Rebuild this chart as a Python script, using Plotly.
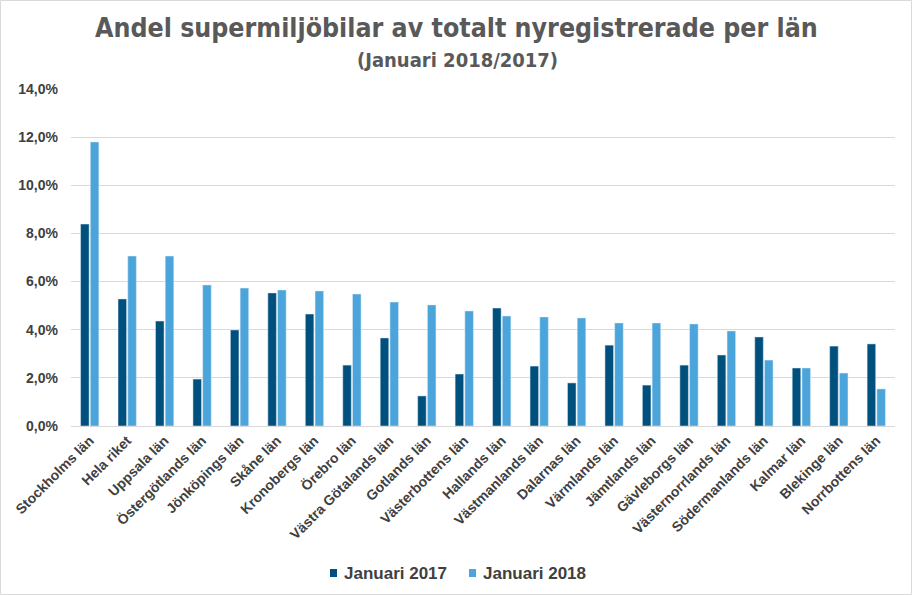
import plotly.graph_objects as go

categories = ["Stockholms län", "Hela riket", "Uppsala län", "Östergötlands län", "Jönköpings län",
              "Skåne län", "Kronobergs län", "Örebro län", "Västra Götalands län", "Gotlands län",
              "Västerbottens län", "Hallands län", "Västmanlands län", "Dalarnas län", "Värmlands län",
              "Jämtlands län", "Gävleborgs län", "Västernorrlands län", "Södermanlands län",
              "Kalmar län", "Blekinge län", "Norrbottens län"]
jan2017 = [8.39, 5.28, 4.36, 1.95, 3.99, 5.53, 4.65, 2.53, 3.66, 1.25, 2.16,
           4.90, 2.49, 1.79, 3.36, 1.70, 2.53, 2.95, 3.70, 2.41, 3.32, 3.41]
jan2018 = [11.80, 7.06, 7.06, 5.86, 5.73, 5.65, 5.61, 5.48, 5.15, 5.03, 4.78,
           4.57, 4.53, 4.49, 4.28, 4.28, 4.24, 3.95, 2.74, 2.41, 2.20, 1.54]
y_ticks = [0, 2, 4, 6, 8, 10, 12, 14]
y_tick_labels = ["0,0%", "2,0%", "4,0%", "6,0%", "8,0%", "10,0%", "12,0%", "14,0%"]
series_names = ["Januari 2017", "Januari 2018"]
colors = ["#00507E", "#4BA5DB"]

W, H = 912, 595
L, R, T, B = 71, 17, 89, 169
pw = W - L - R
ph = H - T - B

def px_x(px):
    return (px - L) / pw

def px_y(py):
    return 1 + (T - py) / ph

fig = go.Figure()
for vals, name, col in zip([jan2017, jan2018], series_names, colors):
    fig.add_trace(go.Bar(x=categories, y=vals, name=name, marker_color=col, showlegend=False))

fig.update_layout(
    width=W, height=H,
    margin=dict(l=L, r=R, t=T, b=B, autoexpand=False),
    paper_bgcolor="white", plot_bgcolor="white",
    barmode="group", bargap=0.48, bargroupgap=0.12,
    font=dict(family="Arial, Liberation Sans", color="#404040"),
    showlegend=False,
)

# title and subtitle
fig.add_annotation(text="<b>Andel supermiljöbilar av totalt nyregistrerade per län</b>",
                   x=px_x(456), y=px_y(27), xref="paper", yref="paper", showarrow=False,
                   xanchor="center", yanchor="middle",
                   font=dict(size=26.5, color="#595959", family="Liberation Sans Narrow, DejaVu Sans Condensed"))
fig.add_annotation(text="<b>(Januari 2018/2017)</b>",
                   x=px_x(457), y=px_y(60), xref="paper", yref="paper", showarrow=False,
                   xanchor="center", yanchor="middle",
                   font=dict(size=20, color="#595959", family="Liberation Sans Narrow, DejaVu Sans Condensed"))

# legend (custom, small square markers)
leg_sq_x = [333.5, 472.5]
leg_txt_x = [342, 481]
for sx, tx, name, col in zip(leg_sq_x, leg_txt_x, series_names, colors):
    fig.add_shape(type="rect", xref="paper", yref="paper",
                  x0=px_x(sx - 3.5), x1=px_x(sx + 3.5), y0=px_y(577), y1=px_y(569),
                  fillcolor=col, line=dict(width=0))
    fig.add_annotation(text="<b>%s</b>" % name, x=px_x(tx), y=px_y(573), xref="paper", yref="paper",
                       showarrow=False, xanchor="left", yanchor="middle",
                       font=dict(size=17, color="#404040", family="Arial, Liberation Sans"))

fig.update_xaxes(tickangle=-45, tickfont=dict(size=14, color="#404040", family="Arial, Liberation Sans"),
                 showline=True, linecolor="#D9D9D9", linewidth=1, ticks="", showgrid=False,
                 automargin=False,
                 tickvals=categories, ticktext=["<b>%s</b>" % c for c in categories])
fig.update_yaxes(range=[0, 14], tickvals=y_ticks, ticktext=["<b>%s</b>" % t for t in y_tick_labels],
                 tickfont=dict(size=14, color="#404040"), showgrid=True, gridcolor="#D9D9D9",
                 gridwidth=1, zeroline=False, ticks="", ticklabelstandoff=12, automargin=False)

fig.add_shape(type="rect", xref="paper", yref="paper",
              x0=px_x(0.5), x1=px_x(911.5), y0=px_y(594.5), y1=px_y(0.5),
              line=dict(color="#D9D9D9", width=1), layer="below")

fig.write_html("out.html", config={"displayModeBar": False},
               post_script="document.body.style.margin='0';")
